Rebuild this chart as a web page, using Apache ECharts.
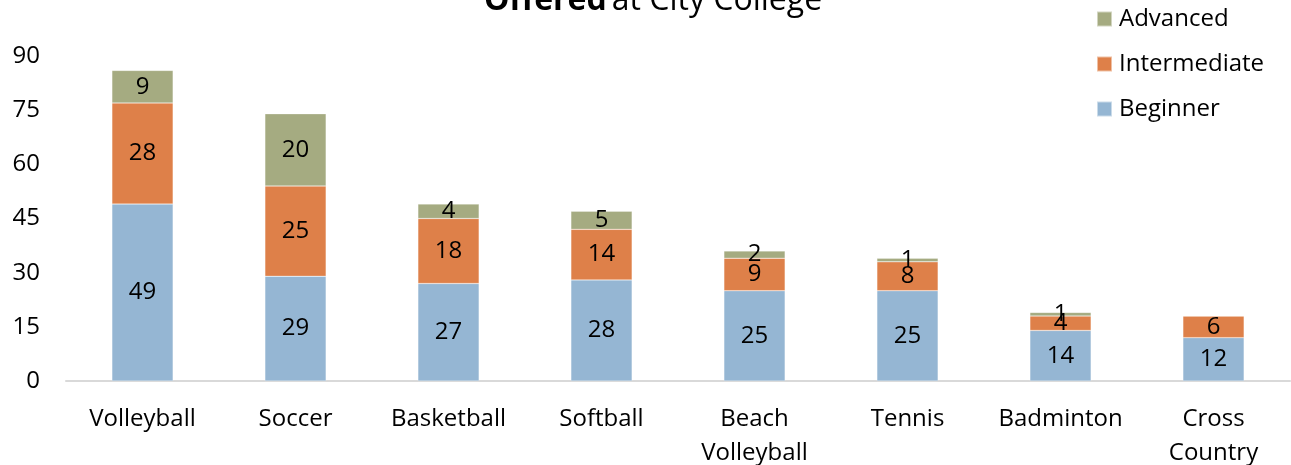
<!DOCTYPE html>
<html><head><meta charset="utf-8">
<script src="https://cdn.jsdelivr.net/npm/echarts@6/dist/echarts.min.js"></script>
<style>html,body{margin:0;padding:0;background:#fff}#c{width:1291px;height:465px}</style>
</head><body><div id="c"></div>
<script>
const categories = ['Volleyball','Soccer','Basketball','Softball','Beach\nVolleyball','Tennis','Badminton','Cross\nCountry'];
const beginner = [49,29,27,28,25,25,14,12];
const intermediate = [28,25,18,14,9,8,4,6];
const advanced = [9,20,4,5,2,1,1,0];
const yTicks = [0,15,30,45,60,75,90];

const FONT = '"Open Sans", "Noto Sans", sans-serif';
const chart = echarts.init(document.getElementById('c'));
function ser(name, data, color){
  return {
    name, type:'bar', stack:'total', data, barWidth:'40%',
    itemStyle:{color, borderColor:'rgba(255,255,255,0.5)', borderWidth:0.5},
    label:{show:true, position:'inside', color:'#000', fontSize:24, fontFamily:FONT,
      formatter:p=>p.value>0?p.value:''},
    emphasis:{disabled:true}
  };
}
chart.setOption({
  animation:false,
  title:{
    text:'{b|Offered} {n|at City College}',
    left:653, textAlign:'center', top:-15, padding:0,
    textStyle:{fontWeight:'normal', rich:{
      b:{fontSize:32, fontWeight:'bold', fontFamily:FONT, color:'#000'},
      n:{fontSize:32, fontWeight:'normal', fontFamily:FONT, color:'#000'}
    }}
  },
  legend:{
    orient:'vertical', left:1096, top:4, padding:0, itemGap:15, itemWidth:15, itemHeight:15,
    icon:'rect', textStyle:{fontSize:24, lineHeight:30, fontFamily:FONT, color:'#000', padding:[0,0,0,2]},
    data:['Advanced','Intermediate','Beginner']
  },
  grid:{left:66, right:1, top:56, bottom:84, containLabel:false, outerBoundsMode:'none'},
  xAxis:{
    type:'category', data:categories,
    axisLine:{lineStyle:{color:'#D9D9D9', width:2}},
    axisTick:{show:false},
    axisLabel:{fontSize:24, fontFamily:FONT, color:'#000', margin:21, lineHeight:34, interval:0}
  },
  yAxis:{
    type:'value', min:0, max:90, interval:15,
    splitLine:{show:false}, axisLine:{show:false}, axisTick:{show:false},
    axisLabel:{fontSize:24, fontFamily:FONT, color:'#000', margin:26,
      formatter:v=>yTicks.includes(v)?String(v):''}
  },
  series:[
    ser('Beginner', beginner, '#95B6D3'),
    ser('Intermediate', intermediate, '#DE8049'),
    ser('Advanced', advanced, '#A5AB81')
  ]
});
</script></body></html>
